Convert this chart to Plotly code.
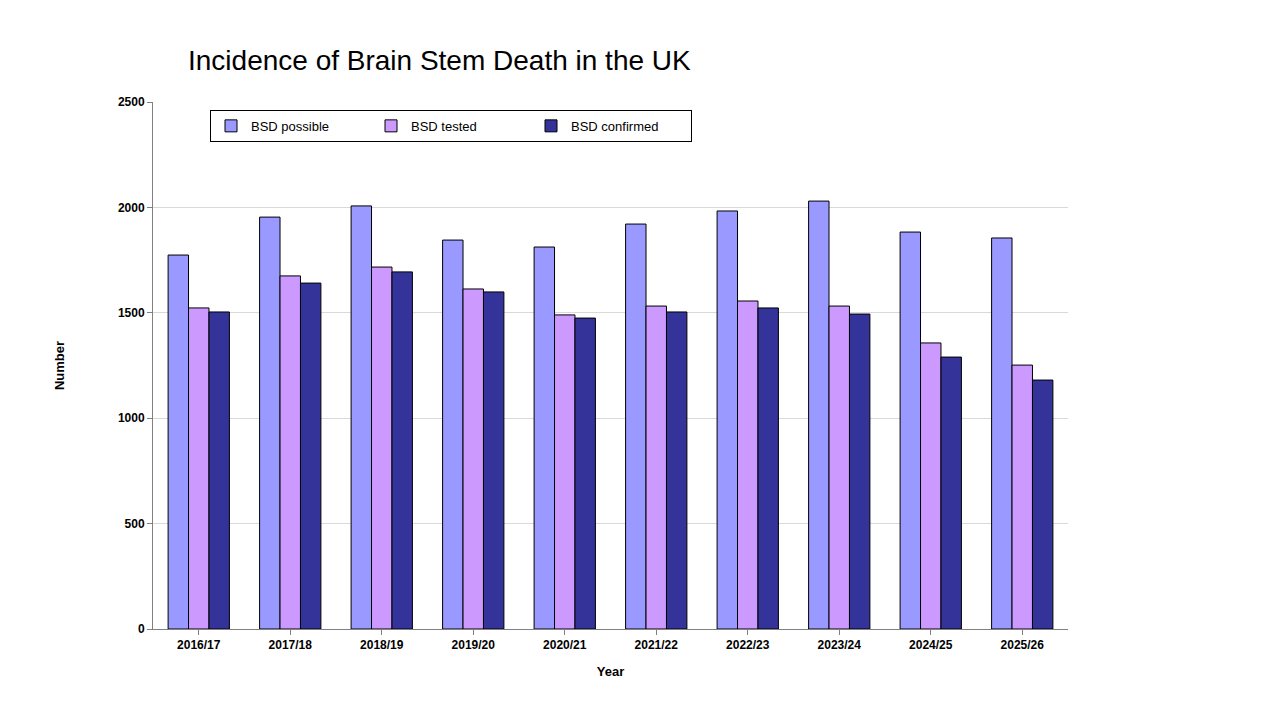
import plotly.graph_objects as go

years = ["2016/17", "2017/18", "2018/19", "2019/20", "2020/21",
         "2021/22", "2022/23", "2023/24", "2024/25", "2025/26"]
bsd_possible = [1774, 1954, 2007, 1845, 1812, 1921, 1983, 2030, 1883, 1855]
bsd_tested = [1523, 1675, 1717, 1613, 1490, 1532, 1556, 1532, 1357, 1252]
bsd_confirmed = [1504, 1641, 1694, 1599, 1475, 1504, 1523, 1494, 1290, 1181]

fig = go.Figure()
for name, vals, col in [("BSD possible", bsd_possible, "#9999FF"),
                        ("BSD tested", bsd_tested, "#CC99FF"),
                        ("BSD confirmed", bsd_confirmed, "#333399")]:
    fig.add_trace(go.Bar(x=years, y=vals, name=name, marker_color=col,
                         marker_line=dict(color="black", width=1)))

fig.update_layout(
    width=1280, height=720,
    paper_bgcolor="white", plot_bgcolor="white",
    font=dict(family="Liberation Sans, Arial", color="black"),
    title=dict(text="Incidence of Brain Stem Death in the UK", x=180/1280, xanchor="left",
               y=1-52/720, yanchor="middle", font=dict(size=28)),
    margin=dict(l=145, r=220, t=94, b=99),
    bargap=0.33, bargroupgap=0,
    legend=dict(orientation="h", x=202/915-145/915, y=1-0.015, xanchor="left", yanchor="top",
                bordercolor="black", borderwidth=1, bgcolor="white",
                font=dict(size=13, family="Liberation Sans, Arial"),
                entrywidth=115, itemwidth=30),
    showlegend=True,
)
fig.update_xaxes(title=dict(text="<b>Year</b>", font=dict(size=13)), showline=True,
                 linecolor="#808080", ticks="outside", tickcolor="#808080",
                 tickfont=dict(size=12), tickprefix="<b>", ticksuffix="</b>")
fig.update_yaxes(title=dict(text="<b>Number</b>", font=dict(size=13), standoff=50), range=[0, 2500],
                 dtick=500, showgrid=True, gridcolor="#d9d9d9", showline=True,
                 linecolor="#808080", ticks="outside", tickcolor="#808080",
                 tickfont=dict(size=12), tickprefix="<b>", ticksuffix="</b>", zeroline=False)

fig.write_html("out.html")
